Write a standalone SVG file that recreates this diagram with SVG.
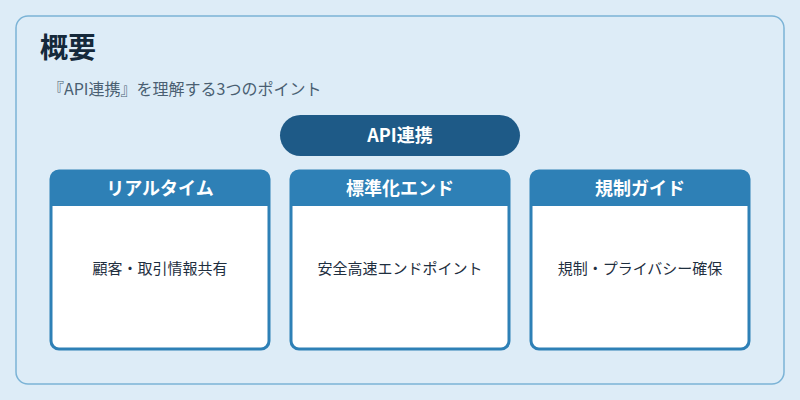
<svg xmlns="http://www.w3.org/2000/svg" width="800" height="400" viewBox="0 0 800 400">
<style>
text{font-family:"Noto Sans CJK JP","Noto Sans",sans-serif}
.hd{fill:#2e80b6}
.card{fill:#fff;stroke:#2e80b6;stroke-width:3}
.ht{fill:#fff;font-size:18px;font-weight:bold;text-anchor:middle}
.bt{fill:#1f2f3f;font-size:15px;text-anchor:middle}
</style>
<rect width="800" height="400" fill="#ddecf7"/>
<rect x="16" y="16" width="768" height="368" rx="12" fill="#ddecf7" stroke="#7bb3d6" stroke-width="1.5"/>
<text x="40" y="58" font-size="28" font-weight="bold" fill="#15293b">概要</text>
<text x="48" y="95" font-size="16" fill="#4a5f72">『API連携』を理解する3つのポイント</text>
<g id="root"><rect x="280" y="115" width="240" height="41" rx="20.5" fill="#1e5a87"/><text x="400" y="142" class="ht">API連携</text></g>
<g id="n1"><rect x="51" y="171" width="218" height="178" rx="8" class="card"/><path d="M51 206V179a8 8 0 0 1 8-8h202a8 8 0 0 1 8 8v27z" class="hd"/><text x="160" y="195" class="ht">リアルタイム</text><text x="160" y="274" class="bt">顧客・取引情報共有</text></g>
<g id="n2"><rect x="291" y="171" width="218" height="178" rx="8" class="card"/><path d="M291 206V179a8 8 0 0 1 8-8h202a8 8 0 0 1 8 8v27z" class="hd"/><text x="400" y="195" class="ht">標準化エンド</text><text x="400" y="274" class="bt">安全高速エンドポイント</text></g>
<g id="n3"><rect x="531" y="171" width="218" height="178" rx="8" class="card"/><path d="M531 206V179a8 8 0 0 1 8-8h202a8 8 0 0 1 8 8v27z" class="hd"/><text x="640" y="195" class="ht">規制ガイド</text><text x="640" y="274" class="bt">規制・プライバシー確保</text></g>
<g id="connectors"/>
</svg>
